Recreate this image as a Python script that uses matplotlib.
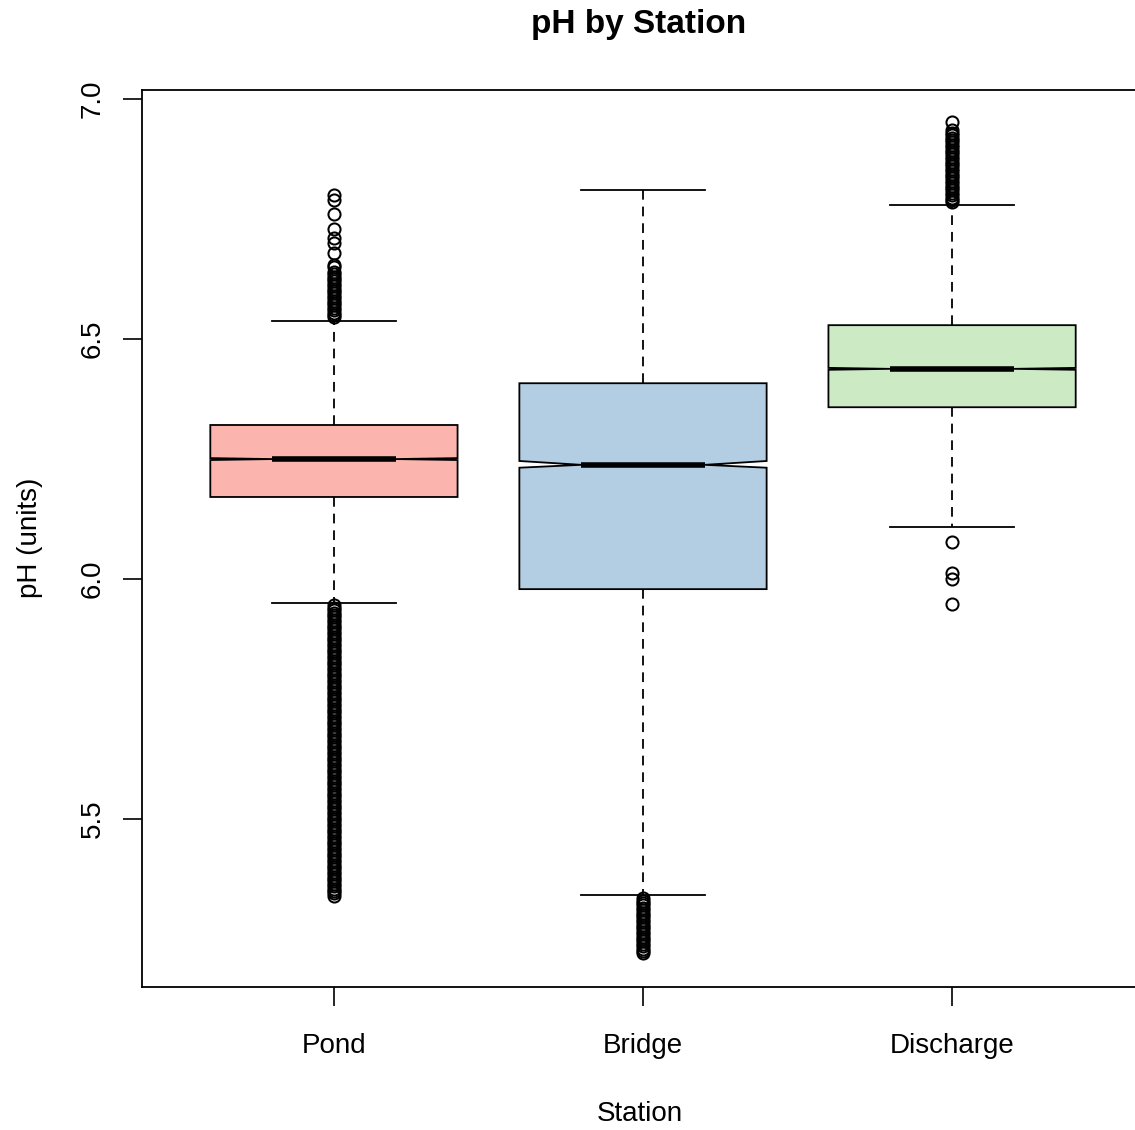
"""
Notched boxplot of pH readings by monitoring station.
"""

import matplotlib

matplotlib.use("Agg")
import matplotlib.pyplot as plt

# --- data ---
stations = ["Pond", "Bridge", "Discharge"]
fill_colors = ["#FBB4AE", "#B3CDE3", "#CCEBC5"]

q1 = [6.171, 5.979, 6.358]
medians = [6.250, 6.238, 6.438]
q3 = [6.321, 6.408, 6.529]
whisker_low = [5.950, 5.342, 6.108]
whisker_high = [6.538, 6.810, 6.779]
notch_low = [6.248, 6.232, 6.436]
notch_high = [6.252, 6.246, 6.440]

pond_outliers = [
    6.545, 6.55, 6.555, 6.56, 6.565, 6.57, 6.575, 6.58, 6.585, 6.59,
    6.595, 6.60, 6.605, 6.61, 6.615, 6.62, 6.625, 6.63, 6.635, 6.64,
    6.65, 6.655, 6.68, 6.70, 6.71, 6.73, 6.76, 6.79, 6.80,
    5.945, 5.94, 5.935, 5.93, 5.925, 5.92, 5.915, 5.91, 5.905, 5.90,
    5.895, 5.89, 5.885, 5.88, 5.875, 5.87, 5.865, 5.86, 5.855, 5.85,
    5.845, 5.84, 5.835, 5.83, 5.825, 5.82, 5.815, 5.81, 5.805, 5.80,
    5.795, 5.79, 5.785, 5.78, 5.775, 5.77, 5.765, 5.76, 5.755, 5.75,
    5.745, 5.74, 5.735, 5.73, 5.725, 5.72, 5.715, 5.71, 5.705, 5.70,
    5.695, 5.69, 5.685, 5.68, 5.675, 5.67, 5.665, 5.66, 5.655, 5.65,
    5.645, 5.64, 5.635, 5.63, 5.625, 5.62, 5.615, 5.61, 5.605, 5.60,
    5.595, 5.59, 5.585, 5.58, 5.575, 5.57, 5.565, 5.56, 5.555, 5.55,
    5.545, 5.54, 5.535, 5.53, 5.525, 5.52, 5.515, 5.51, 5.505, 5.50,
    5.495, 5.49, 5.485, 5.48, 5.475, 5.47, 5.465, 5.46, 5.455, 5.45,
    5.445, 5.44, 5.435, 5.43, 5.425, 5.42, 5.415, 5.41, 5.405, 5.40,
    5.395, 5.39, 5.385, 5.38, 5.375, 5.37, 5.365, 5.36, 5.355, 5.35,
    5.345, 5.34,
]
bridge_outliers = [
    5.335, 5.33, 5.325, 5.32, 5.315, 5.31, 5.305, 5.30, 5.295, 5.29,
    5.285, 5.28, 5.275, 5.27, 5.265, 5.26, 5.255, 5.25, 5.245, 5.24,
    5.235, 5.23, 5.225, 5.22,
]
discharge_outliers = [
    6.785, 6.79, 6.795, 6.80, 6.805, 6.81, 6.815, 6.82, 6.825, 6.83,
    6.835, 6.84, 6.845, 6.85, 6.855, 6.86, 6.865, 6.87, 6.875, 6.88,
    6.885, 6.89, 6.895, 6.90, 6.905, 6.91, 6.915, 6.92, 6.925, 6.93,
    6.935, 6.952,
    6.078, 6.013, 6.001, 5.949,
]
outliers = [pond_outliers, bridge_outliers, discharge_outliers]

y_ticks = [5.5, 6.0, 6.5, 7.0]

plt.rcParams["font.family"] = ["Liberation Sans", "DejaVu Sans"]
plt.rcParams["lines.scale_dashes"] = False

W, H = 1135, 1130
fig = plt.figure(figsize=(W / 100, H / 100), dpi=100)
ax = fig.add_axes([142 / W, 143 / H, 1002 / W, 897 / H])

stats = []
for i, name in enumerate(stations):
    stats.append(
        dict(
            label=name,
            q1=q1[i],
            med=medians[i],
            q3=q3[i],
            whislo=whisker_low[i],
            whishi=whisker_high[i],
            cilo=notch_low[i],
            cihi=notch_high[i],
            fliers=outliers[i],
        )
    )

lw = 1.3
parts = ax.bxp(
    stats,
    positions=[1, 2, 3],
    widths=0.8,
    shownotches=True,
    patch_artist=True,
    showfliers=True,
    capwidths=0.4,
    boxprops=dict(linewidth=lw, edgecolor="black"),
    whiskerprops=dict(linewidth=lw, color="black", linestyle=(0, (7, 5))),
    capprops=dict(linewidth=lw, color="black"),
    medianprops=dict(linewidth=4.0, color="black", solid_capstyle="butt"),
    flierprops=dict(
        marker="o",
        markersize=8.7,
        markerfacecolor="none",
        markeredgecolor="black",
        markeredgewidth=1.45,
        linestyle="none",
    ),
)
for patch, color in zip(parts["boxes"], fill_colors):
    patch.set_facecolor(color)

ax.set_xlim(0.379, 3.621)
ax.set_ylim(5.15, 7.019)
ax.set_xticks([1, 2, 3])
ax.set_xticklabels(stations)
ax.set_yticks(y_ticks)
ax.set_yticklabels([f"{v:.1f}" for v in y_ticks], rotation=90, va="center")
ax.tick_params(axis="both", length=14, width=1.2, labelsize=20)
ax.tick_params(axis="x", pad=19)
ax.tick_params(axis="y", pad=12)
for spine in ax.spines.values():
    spine.set_linewidth(1.3)

fig.text(639 / W, 1 - 24 / H, "pH by Station", ha="center", va="center",
         fontsize=24, fontweight="bold")
fig.text(640 / W, 1 - 1114 / H, "Station", ha="center", va="center", fontsize=20)
fig.text(30 / W, 1 - 538 / H, "pH (units)", ha="center", va="center",
         rotation=90, fontsize=20)

fig.savefig("out.png", dpi=100)
